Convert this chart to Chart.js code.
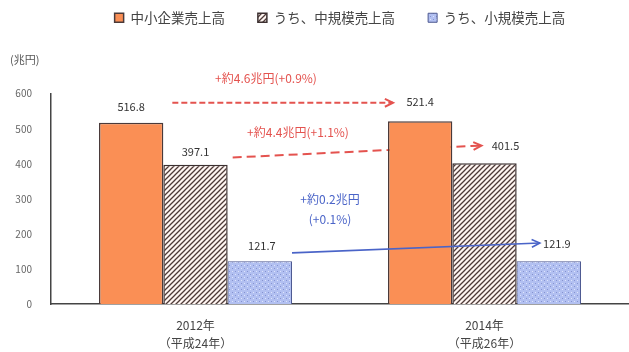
<!DOCTYPE html>
<html>
<head>
<meta charset="utf-8">
<script src="https://cdn.jsdelivr.net/npm/chart.js@4.4.1/dist/chart.umd.min.js"></script>
<style>
    html, body { margin: 0; padding: 0; background: #fff; overflow: hidden; }
    .wrap { width: 629px; height: 352px; position: relative; }
</style>
</head>
<body>
<div class="wrap"><canvas id="salesChart"></canvas></div>
<script>
// categories
const years = [['2012年', '（平成24年）'], ['2014年', '（平成26年）']];

// series values (兆円)
const totalSales = [516.8, 521.4];
const midSales = [397.1, 401.5];
const smallSales = [121.7, 121.9];

const seriesNames = ['中小企業売上高', 'うち、中規模売上高', 'うち、小規模売上高'];

// y axis ticks
const yTicks = [0, 100, 200, 300, 400, 500, 600];

// change notes
const changeNotes = ['+約4.6兆円(+0.9%)', '+約4.4兆円(+1.1%)', '+約0.2兆円', '(+0.1%)'];

const FONT = '"Noto Sans CJK JP", "Noto Sans", sans-serif';

function makeHatch() {
    let c = document.createElement('canvas');
    c.width = 5; c.height = 5;
    let g = c.getContext('2d');
    g.fillStyle = '#fff6f2';
    g.fillRect(0, 0, 5, 5);
    g.strokeStyle = '#4d3a38';
    g.lineWidth = 1.3;
    g.beginPath();
    g.moveTo(0, 5); g.lineTo(5, 0);
    g.moveTo(-1, 1); g.lineTo(1, -1);
    g.moveTo(4, 6); g.lineTo(6, 4);
    g.stroke();
    return g.createPattern(c, 'repeat');
}

function makeDots() {
    let c = document.createElement('canvas');
    c.width = 6; c.height = 6;
    let g = c.getContext('2d');
    g.fillStyle = '#b2c0f1';
    g.fillRect(0, 0, 6, 6);
    g.fillStyle = '#8592cf';
    g.fillRect(1, 1, 1, 1);
    g.fillRect(4, 4, 1, 1);
    g.fillStyle = '#dfe5fb';
    g.fillRect(4, 1, 1, 1);
    g.fillRect(1, 4, 1, 1);
    return g.createPattern(c, 'repeat');
}

function arrow(ctx, x1, y1, x2, y2, color, dash, width) {
    ctx.save();
    ctx.strokeStyle = color;
    ctx.lineWidth = width;
    ctx.setLineDash(dash);
    ctx.beginPath();
    ctx.moveTo(x1, y1);
    ctx.lineTo(x2, y2);
    ctx.stroke();
    ctx.setLineDash([]);
    let a = Math.atan2(y2 - y1, x2 - x1);
    ctx.beginPath();
    ctx.moveTo(x2 - 9 * Math.cos(a - 0.45), y2 - 9 * Math.sin(a - 0.45));
    ctx.lineTo(x2, y2);
    ctx.lineTo(x2 - 9 * Math.cos(a + 0.45), y2 - 9 * Math.sin(a + 0.45));
    ctx.stroke();
    ctx.restore();
}

// red arrows sit behind the bars
const arrowPlugin = {
    id: 'arrows',
    beforeDatasetsDraw(chart) {
        let ctx = chart.ctx;
        let y = chart.scales.y;
        let b0 = chart.getDatasetMeta(0).data;
        let b1 = chart.getDatasetMeta(1).data;
        let red = '#e4534f';
        arrow(ctx, b0[0].x + b0[0].width / 2 + 9, y.getPixelForValue(574),
              b0[1].x - b0[1].width / 2 + 5, y.getPixelForValue(574), red, [6, 3], 2);
        arrow(ctx, b1[0].x + b1[0].width / 2 + 5, y.getPixelForValue(418),
              b1[1].x - 3, y.getPixelForValue(452), red, [9, 5], 2);
    }
};

// blue arrow, value labels and notes
const labelPlugin = {
    id: 'labels',
    afterDatasetsDraw(chart) {
        let ctx = chart.ctx;
        let y = chart.scales.y;
        let b2 = chart.getDatasetMeta(2).data;
        arrow(ctx, b2[0].x + b2[0].width / 2, y.getPixelForValue(146),
              b2[1].x - 9, y.getPixelForValue(174), '#4a64c8', [], 1.6);

        ctx.save();
        ctx.textAlign = 'center';
        ctx.textBaseline = 'middle';
        ctx.font = '11px ' + FONT;
        ctx.fillStyle = '#333';
        let shifts = [[[0, 16], [0, 19]], [[0, 13], [21, 17]], [[2, 16], [8, 17]]];
        chart.data.datasets.forEach((ds, i) => {
            chart.getDatasetMeta(i).data.forEach((bar, j) => {
                ctx.fillText(ds.data[j].toFixed(1), bar.x + shifts[i][j][0], bar.y - shifts[i][j][1]);
            });
        });
        let mid = (chart.scales.x.getPixelForValue(0) + chart.scales.x.getPixelForValue(1)) / 2;
        ctx.font = '12px ' + FONT;
        ctx.fillStyle = '#e4534f';
        ctx.fillText(changeNotes[0], mid - 74, y.getPixelForValue(643));
        ctx.fillText(changeNotes[1], mid - 42, y.getPixelForValue(489));
        ctx.fillStyle = '#4a64c8';
        ctx.fillText(changeNotes[2], mid - 10, y.getPixelForValue(297));
        ctx.fillText(changeNotes[3], mid - 10, y.getPixelForValue(240));
        ctx.restore();
    }
};

let ctx = document.getElementById('salesChart').getContext('2d');
let salesChart = new Chart(ctx, {
    type: 'bar',
    data: {
        labels: years,
        datasets: [{
            label: seriesNames[0],
            data: totalSales,
            backgroundColor: '#fa8f55',
            borderColor: '#4a3a3a',
            borderWidth: 1.5
        }, {
            label: seriesNames[1],
            data: midSales,
            backgroundColor: makeHatch(),
            borderColor: '#3c3030',
            borderWidth: 1.5
        }, {
            label: seriesNames[2],
            data: smallSales,
            backgroundColor: makeDots(),
            borderColor: '#4c5890',
            borderWidth: 1
        }]
    },
    options: {
        responsive: true,
        maintainAspectRatio: false,
        animation: false,
        datasets: {
            bar: {
                categoryPercentage: 0.668,
                barPercentage: 1
            }
        },
        layout: {
            padding: { left: 10, right: 0, top: -22, bottom: -12 }
        },
        scales: {
            x: {
                grid: { display: false, drawTicks: false },
                border: { display: true, color: '#444', width: 1.5 },
                ticks: {
                    color: '#444',
                    padding: 12,
                    font: { size: 12, family: FONT, lineHeight: 1.5 }
                }
            },
            y: {
                min: 0,
                max: 600,
                afterBuildTicks: function (axis) {
                    axis.ticks = yTicks.map(v => ({ value: v }));
                },
                afterFit: function (axis) {
                    axis.width = 41;
                },
                grid: { display: false, drawTicks: false },
                border: { display: true, color: '#444', width: 1.5 },
                ticks: {
                    color: '#666',
                    padding: 19,
                    font: { size: 10, family: FONT }
                }
            }
        },
        plugins: {
            legend: {
                position: 'top',
                fullSize: false,
                labels: {
                    boxWidth: 9,
                    boxHeight: 9,
                    padding: 33,
                    color: '#444',
                    font: { size: 13.5, family: FONT }
                }
            },
            title: {
                display: true,
                text: '(兆円)',
                align: 'start',
                weight: 500,
                color: '#555',
                padding: { top: 19, bottom: 27 },
                font: { size: 11, weight: 'normal', family: FONT }
            },
            tooltip: { enabled: false }
        }
    },
    plugins: [arrowPlugin, labelPlugin]
});
</script>
</body>
</html>
